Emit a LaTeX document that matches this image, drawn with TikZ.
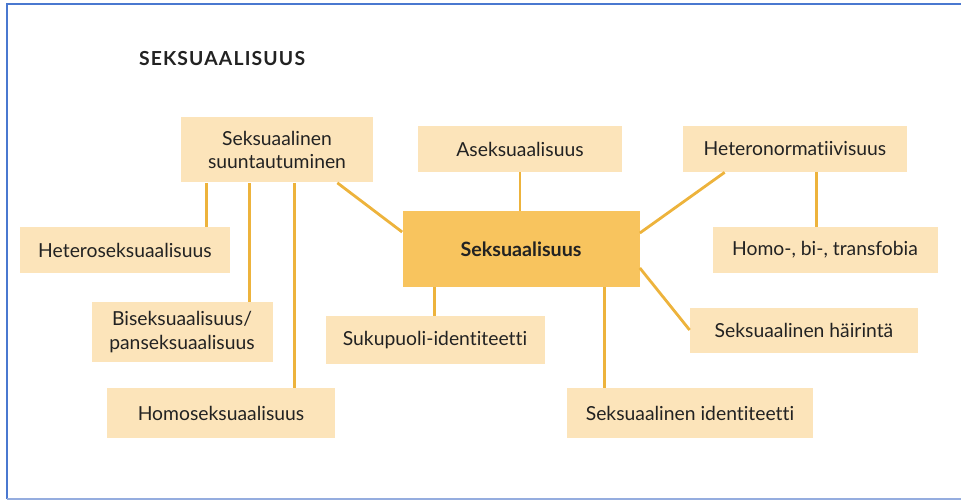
\documentclass[tikz,border=0pt]{standalone}
\usepackage{fontspec}
\setmainfont{Lato}[Ligatures=NoCommon]
\usepackage{tikz}
\usetikzlibrary{positioning,calc}
\definecolor{boxfill}{HTML}{FCE4BA}
\definecolor{hubfill}{HTML}{F8C45E}
\definecolor{linkcol}{HTML}{EDB33C}
\definecolor{framecol}{HTML}{4A78D0}
\definecolor{framelow}{HTML}{95ADDF}
\definecolor{ink}{HTML}{222222}
\tikzset{leaf/.style={fill=boxfill,text=ink,inner sep=0pt,align=center,font=\fontsize{11}{13.5}\selectfont}}
\tikzset{hub/.style={leaf,fill=hubfill,font=\fontsize{11.2}{13.5}\selectfont\bfseries}}
\tikzset{sz/.style 2 args={minimum width=#1*0.02cm,minimum height=#2*0.02cm}}
\tikzset{link/.style={draw=linkcol,line width=1.6pt}}

\begin{document}
\begin{tikzpicture}[x=0.02cm,y=-0.02cm]
    \useasboundingbox (0,0) rectangle (961,500);
    \draw[framecol,line width=1.2pt] (7,499) -- (7,4) -- (961,4);
    \draw[framelow,line width=1.2pt] (7,499) -- (961,499);

    \node[text=ink,font=\fontsize{11}{13}\selectfont\bfseries] (title) at (222,59)
        {\addfontfeatures{LetterSpace=6}SEKSUAALISUUS};

    \node[hub,sz={237}{75}] (ctr) at (521,249) {Seksuaalisuus};
    \node[leaf,sz={192}{65}] (sso) at (277,150) {Seksuaalinen\\suuntautuminen};
    \node[leaf,sz={204}{46}] (aseks) at (520,149) {Aseksuaalisuus};
    \node[leaf,sz={224}{46}] (hnorm) at (795,149) {Heteronormatiivisuus};
    \node[leaf,sz={210}{46}] (hetero) at (125,250) {Heteroseksuaalisuus};
    \node[leaf,sz={181}{60}] (bipan) at (182,332) {Biseksuaalisuus/\\panseksuaalisuus};
    \node[leaf,sz={228}{50}] (homo) at (221,413) {Homoseksuaalisuus};
    \node[leaf,sz={219}{48}] (sukup) at (435,340) {Sukupuoli-identiteetti};
    \node[leaf,sz={225}{46}] (fobia) at (825,250) {Homo-, bi-, transfobia};
    \node[leaf,sz={228}{45}] (hair) at (804,330) {Seksuaalinen häirintä};
    \node[leaf,sz={246}{50}] (sid) at (690,413) {Seksuaalinen identiteetti};

    % connector feet on the box edges
    \path (sso.south west) ++(26,0) coordinate (s1) ++(43,0) coordinate (s2) ++(45,0) coordinate (s3);
    \path (hnorm.south west) ++(134,0) coordinate (h1);
    \path (ctr.south west) ++(32,0) coordinate (c1) ++(170,0) coordinate (c2);

    \draw[link] (s1) -- (s1 |- hetero.north);
    \draw[link] (s2) -- (s2 |- bipan.north);
    \draw[link] (s3) -- (s3 |- homo.north);
    \draw[link] (sso.south east) ++(-36,0) -- ([yshift=0.34cm]ctr.west);
    \draw[link] (aseks.south) -- (aseks.south |- ctr.north);
    \draw[link] (hnorm.south west) ++(42,0) -- ([yshift=0.32cm]ctr.east);
    \draw[link] (h1) -- (h1 |- fobia.north);
    \draw[link] ([yshift=-0.38cm]ctr.east) -- (hair.west);
    \draw[link] (c1) -- (c1 |- sukup.north);
    \draw[link] (c2) -- (c2 |- sid.north);
\end{tikzpicture}
\end{document}
